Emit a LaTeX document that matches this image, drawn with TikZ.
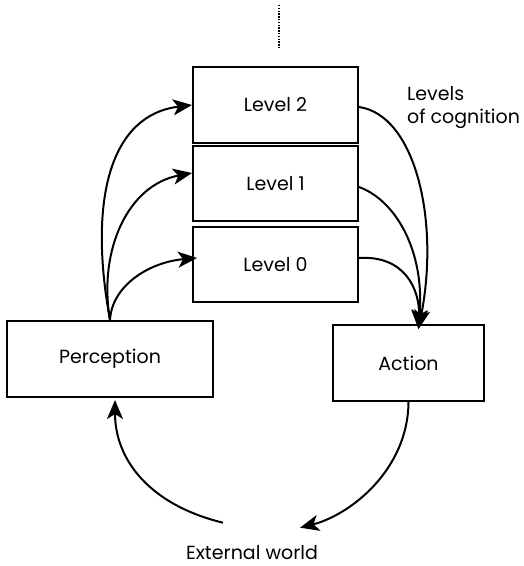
\documentclass[tikz,border=0pt]{standalone}
\usepackage{fontspec}
\setmainfont{Poppins}
\usetikzlibrary{arrows.meta}
\begin{document}
\begin{tikzpicture}[x=1pt,y=-1pt,
  box/.style={draw,line width=2pt,minimum width=165pt,minimum height=76pt,inner sep=0pt,font=\fontsize{19}{22}\selectfont},
  flow/.style={line width=2pt,-{Stealth[length=19pt,width=16pt,inset=5pt]}},
  lbl/.style={font=\fontsize{19}{23}\selectfont,inner sep=0pt}]
\useasboundingbox (0,0) rectangle (524,566);
% cognition levels
\node[box] (l2) at (275.5,105) {Level 2};
\node[box,minimum height=75pt] (l1) at (275.5,183.5) {Level 1};
\node[box,minimum height=75pt] (l0) at (275.5,264.5) {Level 0};
% perception and action
\node[box,minimum width=206pt] (perc) at (110,359) {Perception};
\node[box,minimum width=151pt] (act) at (408.5,363) {Action};
\node[lbl] (world) at (252,553) {External world};
\node[lbl,align=left,anchor=west] (cog) at (407,108) {Levels\\of cognition};
% continuation above the top level
\coordinate (dtop) at (279,5);
\coordinate (dbot) at (279,48);
\draw[line width=2.2pt,dash pattern=on 1.4pt off 1.4pt] (dtop) -- (dbot);
% perception feeds every level
\draw[flow] (perc.north) .. controls (88,200) and (110,115) .. (l2.west);
\draw[flow] (perc.north) .. controls (98,250) and (128,185) .. ([yshift=10.5pt]l1.west);
\draw[flow] (perc.north) .. controls (112,285) and (150,262) .. ([xshift=5pt,yshift=6.5pt]l0.west);
% every level drives action
\draw[flow] ([yshift=-2pt]l2.east) .. controls (415,115) and (440,220) .. ([xshift=10pt,yshift=-5pt]act.north);
\draw[flow] ([yshift=-3.5pt]l1.east) .. controls (395,200) and (425,250) .. ([xshift=10pt,yshift=-5pt]act.north);
\draw[flow] ([yshift=6.5pt]l0.east) .. controls (405,255) and (420,290) .. ([xshift=10pt,yshift=-5pt]act.north);
% loop through the external world
\draw[flow] (act.south) .. controls (408,470) and (350,515) .. ([xshift=48pt,yshift=18pt]world.north);
\draw[flow] ([xshift=-29pt,yshift=23pt]world.north) .. controls (150,505) and (115,460) .. ([xshift=5pt,yshift=-2pt]perc.south);
\end{tikzpicture}
\end{document}
